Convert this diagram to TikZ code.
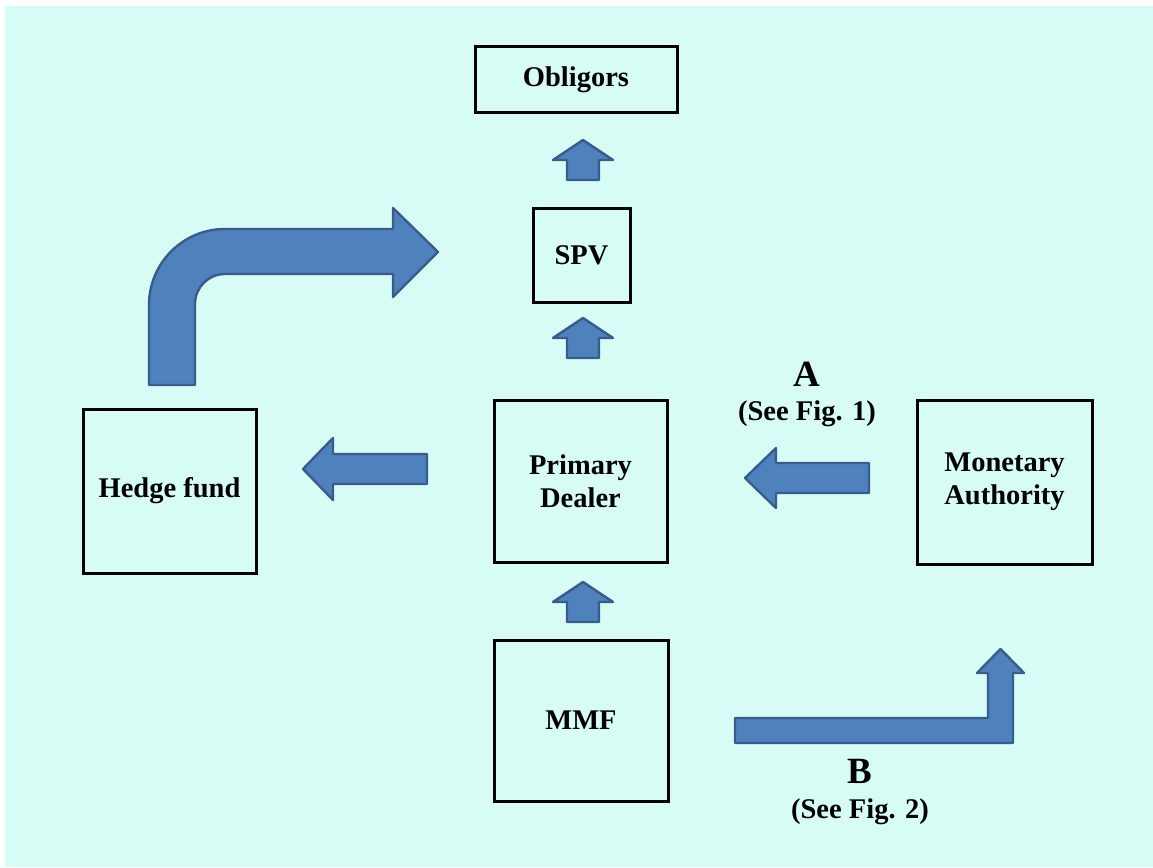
\documentclass[tikz,border=0pt]{standalone}
\usepackage{fontspec}
\setmainfont{Liberation Serif}
\definecolor{bgc}{RGB}{215,252,245}
\definecolor{arrfill}{RGB}{79,129,189}
\definecolor{arrline}{RGB}{56,93,138}
\tikzset{
  box/.style={draw=black, line width=3pt, inner sep=0pt, align=center,
    font=\fontsize{28.5}{33}\selectfont\bfseries},
  blockarrow/.style={fill=arrfill, draw=arrline, line width=2.4pt, line join=round},
  lbl/.style={inner sep=0pt, anchor=base},
  pics/uparr/.style={code={
    \draw[blockarrow] (0,0) -- (30,20) -- (16,20) -- (16,40) -- (-16,40) -- (-16,20) -- (-30,20) -- cycle;
  }}
}
\begin{document}
\begin{tikzpicture}[x=1pt, y=-1pt]
\useasboundingbox (0,0) rectangle (1153,867);
\fill[bgc] (5,6) rectangle (1153,867);

% boxes
\node[box, minimum width=202pt, minimum height=65pt] (obl) at (576,79.5) {Obligors};
\node[box, minimum width=97pt, minimum height=94pt] (spv) at (581.5,255) {SPV};
\node[box, minimum width=173pt, minimum height=162pt] (pd) at (580.5,481) {Primary\\Dealer};
\node[box, minimum width=174pt, minimum height=161pt] (mmf) at (581,720.5) {MMF};
\node[box, minimum width=173pt, minimum height=164pt] (hf) at (169.5,491) {Hedge fund};
\node[box, minimum width=175pt, minimum height=164pt] (ma) at (1004.5,482) {Monetary\\Authority};

% small up arrows
\pic at (583,140) {uparr};
\pic at (583,318) {uparr};
\pic at (583,582) {uparr};

% left arrows
\draw[blockarrow] (303,469) -- (333,438) -- (333,454) -- (427,454) -- (427,484) -- (333,484) -- (333,500) -- cycle;
\draw[blockarrow] (745,478) -- (776,448) -- (776,463) -- (869,463) -- (869,493) -- (776,493) -- (776,508) -- cycle;

% curved arrow from hedge fund to SPV
\draw[blockarrow] (149,385) -- (149,305) .. controls (149,263) and (183,229) .. (225,229)
  -- (393,229) -- (393,208) -- (438,252) -- (393,297) -- (393,274) -- (225,274)
  .. controls (208.4,274) and (195,287.4) .. (195,304) -- (195,385) -- cycle;

% bent arrow MMF -> Monetary Authority
\draw[blockarrow] (735,718) -- (988,718) -- (988,673) -- (977,673) -- (1000.5,649)
  -- (1024,673) -- (1013,673) -- (1013,743) -- (735,743) -- cycle;

% labels
\node[lbl, font=\fontsize{37}{40}\selectfont\bfseries] (la) at (807,386) {A};
\node[lbl, font=\fontsize{28.5}{33}\selectfont\bfseries] (lfa) at (807,420) {(See Fig. 1)};
\node[lbl, font=\fontsize{37}{40}\selectfont\bfseries] (lb) at (860,783) {B};
\node[lbl, font=\fontsize{28.5}{33}\selectfont\bfseries] (lfb) at (860,818) {(See Fig. 2)};
\end{tikzpicture}
\end{document}
